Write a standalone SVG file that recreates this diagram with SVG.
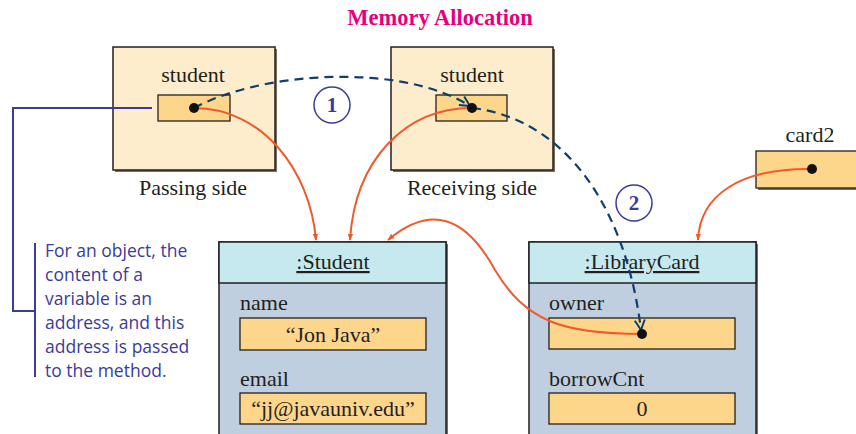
<svg xmlns="http://www.w3.org/2000/svg" width="856" height="434" viewBox="0 0 856 434">
<defs>
<style>
.serif{font-family:"Liberation Serif","Times New Roman",serif;fill:#231f20;}
.lbl{font-size:22px;}
.frame{fill:#fdedcc;stroke:#231f20;stroke-width:1.5;}
.shadow{fill:#7a6e60;}
.field{fill:#fdd68c;stroke:#231f20;stroke-width:1.3;}
.hdr{fill:#c6e8ef;stroke:#231f20;stroke-width:1.5;}
.body{fill:#bfcfe0;stroke:#231f20;stroke-width:1.5;}
.dot{fill:#111;}
.ref{fill:none;stroke:#f15a29;stroke-width:2;}
.dash{fill:none;stroke:#0f3d6e;stroke-width:2.2;stroke-dasharray:9 6;}
.note{font-family:"Open Sans","Noto Sans",sans-serif;font-size:17.5px;fill:#3b3b98;}
.num{fill:none;stroke:#3b3b98;stroke-width:1.5;}
.numt{font-family:"Liberation Serif",serif;font-weight:bold;font-size:21px;fill:#3b3b98;}
</style>
<marker id="oa" viewBox="0 0 10 10" refX="9" refY="5" markerWidth="7" markerHeight="7" orient="auto" markerUnits="userSpaceOnUse">
<path d="M0,1 L10,5 L0,9 Z" fill="#f15a29"/>
</marker>
<marker id="da" viewBox="0 0 12 12" refX="11" refY="6" markerWidth="12" markerHeight="12" orient="auto" markerUnits="userSpaceOnUse">
<path d="M1,1 L11,6 L1,11" fill="none" stroke="#0f3d6e" stroke-width="2"/>
</marker>
</defs>
<rect width="856" height="434" fill="#ffffff"/>

<text id="title" x="440" y="25" text-anchor="middle" font-family="Liberation Serif,serif" font-weight="bold" font-size="22.5" fill="#e6007e">Memory Allocation</text>

<g id="passing">
<rect class="shadow" x="115" y="49" width="162" height="123"/>
<rect class="frame" x="113" y="47" width="162" height="123"/>
<text class="serif lbl" x="193" y="82" text-anchor="middle">student</text>
<rect class="field" x="158" y="95" width="72" height="26"/>
<text class="serif lbl" x="193" y="195" text-anchor="middle">Passing side</text>
</g>

<g id="receiving">
<rect class="shadow" x="393" y="49" width="162" height="123"/>
<rect class="frame" x="391" y="47" width="162" height="123"/>
<text class="serif lbl" x="472" y="82" text-anchor="middle">student</text>
<rect class="field" x="436" y="95" width="71" height="26"/>
<text class="serif lbl" x="472" y="195" text-anchor="middle">Receiving side</text>
</g>

<g id="card2">
<text class="serif lbl" x="810" y="142" text-anchor="middle">card2</text>
<rect class="shadow" x="758" y="153" width="100" height="37"/>
<rect class="field" x="756" y="151" width="102" height="37"/>
</g>

<g id="student-obj">
<rect class="shadow" x="221" y="244" width="227" height="192"/>
<rect class="body" x="219" y="242" width="227" height="194"/>
<rect class="hdr" x="219" y="242" width="227" height="41"/>
<text class="serif lbl" x="333" y="269" text-anchor="middle" text-decoration="underline">:Student</text>
<text class="serif lbl" x="240" y="310">name</text>
<rect class="field" x="240" y="318" width="186" height="32"/>
<text class="serif lbl" x="333" y="342" text-anchor="middle">“Jon Java”</text>
<text class="serif lbl" x="240" y="386">email</text>
<rect class="field" x="240" y="393" width="186" height="31"/>
<text class="serif lbl" x="333" y="416" text-anchor="middle">“jj@javauniv.edu”</text>
</g>

<g id="librarycard-obj">
<rect class="shadow" x="531" y="244" width="227" height="192"/>
<rect class="body" x="529" y="242" width="227" height="194"/>
<rect class="hdr" x="529" y="242" width="227" height="41"/>
<text class="serif lbl" x="642" y="269" text-anchor="middle" text-decoration="underline">:LibraryCard</text>
<text class="serif lbl" x="549" y="310">owner</text>
<rect class="field" x="549" y="318" width="186" height="31"/>
<text class="serif lbl" x="549" y="386">borrowCnt</text>
<rect class="field" x="549" y="393" width="186" height="31"/>
<text class="serif lbl" x="642" y="416" text-anchor="middle">0</text>
</g>

<g id="note">
<path d="M152,108 H13 V311 H35" fill="none" stroke="#3b3b98" stroke-width="2"/>
<line x1="35" y1="243" x2="35" y2="377" stroke="#3b3b98" stroke-width="2"/>
<text class="note" x="45" y="257">For an object, the</text>
<text class="note" x="45" y="281">content of a</text>
<text class="note" x="45" y="305">variable is an</text>
<text class="note" x="45" y="329">address, and this</text>
<text class="note" x="45" y="353">address is passed</text>
<text class="note" x="45" y="377">to the method.</text>
</g>

<g id="connectors">
<path class="ref" d="M194,108 C262,108 310,170 316,240" marker-end="url(#oa)"/>
<path class="ref" d="M472,108 C405,108 355,160 350,240" marker-end="url(#oa)"/>
<path class="ref" d="M642,334 C560,334 525,320 495,270 C465,215 430,205 388,240" marker-end="url(#oa)"/>
<path class="ref" d="M812,169 C740,168 700,195 698,240" marker-end="url(#oa)"/>
<path class="dash" d="M194,108 C260,72 400,62 470,106" marker-end="url(#da)"/>
<path class="dash" d="M472,108 C560,118 625,200 641,330" marker-end="url(#da)"/>
<circle class="dot" cx="194" cy="108" r="5"/>
<circle class="dot" cx="472" cy="108" r="5"/>
<circle class="dot" cx="642" cy="334" r="5"/>
<circle class="dot" cx="812" cy="169" r="5"/>
</g>

<g id="step1">
<circle class="num" cx="332" cy="105" r="18"/>
<text class="numt" x="332" y="112" text-anchor="middle">1</text>
</g>
<g id="step2">
<circle class="num" cx="634" cy="203" r="18"/>
<text class="numt" x="634" y="210" text-anchor="middle">2</text>
</g>
</svg>
